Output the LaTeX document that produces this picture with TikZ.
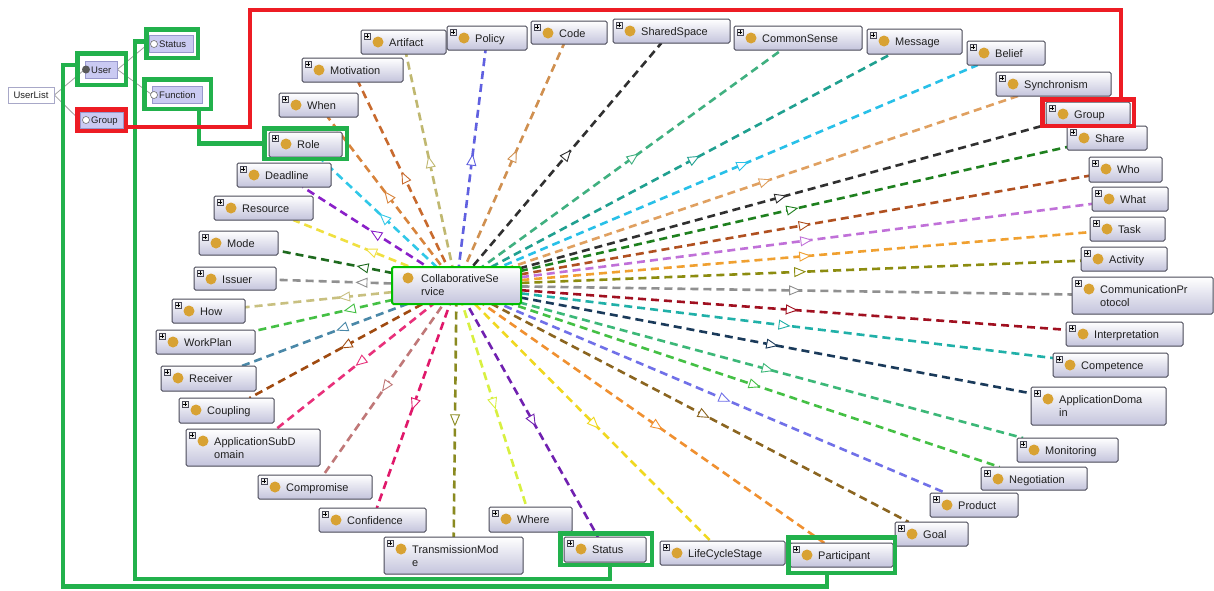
\documentclass[tikz,border=0pt]{standalone}
\usepackage{fontspec}
\setmainfont{Liberation Sans}
\usetikzlibrary{arrows.meta,decorations.markings}

\definecolor{gld}{HTML}{D8A233}
\definecolor{gr}{HTML}{22B14C}
\definecolor{rd}{HTML}{ED1C24}
\definecolor{bord}{HTML}{4A4A58}
\definecolor{shadebot}{HTML}{C4C4DC}
\definecolor{lav}{HTML}{CACAF2}
\definecolor{lavb}{HTML}{9898CC}
\definecolor{ulb}{HTML}{A8A8C8}
\definecolor{txt}{HTML}{202020}
\definecolor{treeln}{HTML}{A0A0A0}

\pgfdeclarelayer{bg}
\pgfdeclarelayer{paper}
\pgfsetlayers{paper,bg,main}

\tikzset{
  obox/.style={rectangle, draw=bord, line width=1pt, rounded corners=1.5pt,
    top color=white, bottom color=shadebot, inner sep=0pt, outer sep=0pt},
  csbox/.style={obox, draw=green!75!black, line width=2pt},
  pbox/.style={draw=bord, fill=black!8, line width=0.5pt},
  pmark/.style={draw=black, line width=0.6pt},
  olabel/.style={anchor=base west, inner sep=0pt, text=txt,
    font=\fontsize{11}{13}\selectfont},
  tlabel/.style={anchor=base west, inner sep=0pt, text=txt,
    font=\fontsize{9.5}{11}\selectfont},
  tlav/.style={rectangle, fill=lav, draw=lavb, line width=0.7pt, inner sep=0pt},
  treeline/.style={draw=treeln, line width=0.8pt},
  rayline/.style={line width=2.6pt, dash pattern=on 8pt off 5pt,
    postaction={decorate},
    decoration={markings, mark=at position 0.56 with
      {\arrow{Triangle[length=12pt, width=10pt, fill=white, line width=0.9pt]}}}},
  gframe/.style={rectangle, draw=gr, line width=4.5pt, inner sep=0pt, outer sep=0pt},
  rframe/.style={gframe, draw=rd},
  gline/.style={draw=gr, line width=4.5pt},
  rline/.style={draw=rd, line width=4.5pt},
}

% class box: name, x1, y1, x2, y2, label
\newcommand\onto[6]{%
  \node[obox, minimum width={#4-#2}, minimum height={#5-#3}] (#1) at ({(#2+#4)/2},{(#3+#5)/2}) {};
  \draw[pbox] (#2+3,#3+3) rectangle (#2+9,#3+9);
  \draw[pmark] (#2+4.2,#3+6) -- (#2+7.8,#3+6) (#2+6,#3+4.2) -- (#2+6,#3+7.8);
  \fill[gld] (#2+17,#3+12) circle (5.5);
  \node[olabel] (#1-t) at (#2+28,#3+16) {#6};
}
\newcommand\twol[2]{\begin{tabular}[t]{@{}l@{}}#1\\#2\end{tabular}}
% dashed relation from the central class
\newcommand\rel[2]{\definecolor{ec}{HTML}{#2}\draw[rayline, color=ec] (cs.center) -- (#1);}
% frame: name, style, outer x1, y1, x2, y2
\newcommand\frm[6]{\node[#2, minimum width={#5-#3-4.5}, minimum height={#6-#4-4.5}] (#1) at ({(#3+#5)/2},{(#4+#6)/2}) {};}

\begin{document}
\begin{tikzpicture}[x=1pt, y=-1pt]
\begin{pgfonlayer}{paper}
\fill[white] (0,0) rectangle (1214,590);
\end{pgfonlayer}
\useasboundingbox (0,0) rectangle (1214,590);

% central class
\node[csbox, minimum width=129, minimum height=37] (cs) at (456.5,285.5) {};
\fill[gld] (408,278) circle (5.5);
\node[olabel] (cs-t) at (421,282.5) {\twol{CollaborativeSe}{rvice}};

% surrounding classes
\onto{mot}{302}{58}{403}{82}{Motivation}
\onto{when}{279}{93}{358}{117}{When}
\onto{role}{269}{132}{342}{157}{Role}
\onto{dead}{237}{163}{331}{187}{Deadline}
\onto{res}{214}{196}{313}{220}{Resource}
\onto{mode}{199}{231}{278}{255}{Mode}
\onto{iss}{194}{267}{276}{290}{Issuer}
\onto{how}{172}{299}{245}{323}{How}
\onto{work}{156}{330}{255}{354}{WorkPlan}
\onto{recv}{161}{366}{256}{391}{Receiver}
\onto{coup}{179}{398}{274}{423}{Coupling}
\onto{asd}{186}{429}{320}{466}{\twol{ApplicationSubD}{omain}}
\onto{comp}{258}{475}{372}{499}{Compromise}
\onto{conf}{319}{508}{426}{532}{Confidence}
\onto{tm}{384}{537}{523}{574}{\twol{TransmissionMod}{e}}
\onto{where}{489}{507}{572}{532}{Where}
\onto{stat}{564}{537}{646}{562}{Status}
\onto{life}{660}{541}{785}{565}{LifeCycleStage}
\onto{part}{790}{543}{893}{567}{Participant}
\onto{goal}{895}{522}{968}{546}{Goal}
\onto{prod}{930}{493}{1018}{517}{Product}
\onto{nego}{981}{467}{1087}{490}{Negotiation}
\onto{moni}{1017}{438}{1118}{462}{Monitoring}
\onto{ad}{1031}{387}{1166}{425}{\twol{ApplicationDoma}{in}}
\onto{compe}{1053}{353}{1168}{377}{Competence}
\onto{interp}{1066}{322}{1183}{346}{Interpretation}
\onto{cp}{1072}{277}{1213}{314}{\twol{CommunicationPr}{otocol}}
\onto{act}{1081}{247}{1167}{271}{Activity}
\onto{task}{1090}{217}{1165}{241}{Task}
\onto{what}{1092}{187}{1168}{211}{What}
\onto{who}{1089}{157}{1162}{182}{Who}
\onto{share}{1067}{126}{1147}{150}{Share}
\onto{grp}{1046}{102}{1130}{125}{Group}
\onto{sync}{996}{72}{1111}{96}{Synchronism}
\onto{bel}{967}{41}{1045}{65}{Belief}
\onto{msg}{867}{29}{962}{54}{Message}
\onto{csense}{734}{26}{862}{50}{CommonSense}
\onto{ss}{613}{19}{730}{43}{SharedSpace}
\onto{code}{531}{21}{607}{44}{Code}
\onto{pol}{447}{26}{527}{50}{Policy}
\onto{art}{361}{30}{446}{54}{Artifact}

% relations, drawn beneath the boxes
\begin{pgfonlayer}{bg}
\rel{mot}{C86A2E}
\rel{when}{D8843C}
\rel{role}{30C8E8}
\rel{dead}{8A20C8}
\rel{res}{F0E040}
\rel{mode}{1E6A1E}
\rel{iss}{909090}
\rel{how}{C8C080}
\rel{work}{44C044}
\rel{recv}{4A88A8}
\rel{coup}{A04A10}
\rel{asd}{E8307A}
\rel{comp}{C07878}
\rel{conf}{E0186A}
\rel{tm}{8A8A20}
\rel{where}{D8F040}
\rel{stat}{7020B0}
\rel{life}{F0D820}
\rel{part}{F09030}
\rel{goal}{8B6520}
\rel{prod}{7070E8}
\rel{nego}{44C044}
\rel{moni}{3CB878}
\rel{ad}{1A3A5A}
\rel{compe}{20B0A8}
\rel{interp}{A01020}
\rel{cp}{909090}
\rel{act}{8C8C10}
\rel{task}{F0A030}
\rel{what}{C070D8}
\rel{who}{B05020}
\rel{share}{1E801E}
\rel{grp}{303030}
\rel{sync}{E0A060}
\rel{bel}{28C0E8}
\rel{msg}{20A090}
\rel{csense}{40B080}
\rel{ss}{303030}
\rel{code}{D09050}
\rel{pol}{6060E0}
\rel{art}{C0B870}
\end{pgfonlayer}

% user list tree
\node[rectangle, fill=white, draw=ulb, line width=0.7pt, inner sep=0pt,
  minimum width=46, minimum height=16, text=txt,
  font=\fontsize{9.5}{11}\selectfont] (ul) at (31,95) {UserList};
\node[tlav, minimum width=32, minimum height=17] (usr) at (101,69.5) {};
\node[tlav, minimum width=43, minimum height=16] (grpl) at (101.5,120) {};
\node[tlav, minimum width=44, minimum height=17] (statl) at (171,43.5) {};
\node[tlav, minimum width=50, minimum height=17] (func) at (177,94.5) {};
\begin{pgfonlayer}{bg}
\draw[treeline] (ul.east) -- (usr.west) (ul.east) -- (grpl.west);
\draw[treeline] (usr.east) -- (statl.west) (usr.east) -- (func.west);
\end{pgfonlayer}
\fill[black!65] (86,69.5) circle (4);
\draw[fill=white, draw=black!55, line width=0.6pt] (86,120) circle (3.5);
\draw[fill=white, draw=black!55, line width=0.6pt] (154,44) circle (3.5);
\draw[fill=white, draw=black!55, line width=0.6pt] (154,95) circle (3.5);
\node[tlabel] (usr-t) at (91,73) {User};
\node[tlabel] (grpl-t) at (91,123.5) {Group};
\node[tlabel] (statl-t) at (159,47.5) {Status};
\node[tlabel] (func-t) at (159,98.5) {Function};

% highlight frames
\frm{fUser}{gframe}{75}{51}{128}{87}
\frm{fStatL}{gframe}{144}{27}{200}{60}
\frm{fFunc}{gframe}{142}{77}{213}{111}
\frm{fRole}{gframe}{262}{126}{349}{161}
\frm{fStat}{gframe}{558}{531}{654}{567}
\frm{fPart}{gframe}{786}{535}{897}{575}
\frm{fGrpL}{rframe}{75}{107}{128}{133}
\frm{fGrpR}{rframe}{1040}{97}{1136}{128}

% links between highlighted items
\coordinate (g1) at (63,586.5);
\coordinate (g2) at (135,579);
\coordinate (r1) at (250,10);
\draw[gline] ([yshift=4pt]fUser.west) -| (g1) -| ([xshift=-14.5pt]fPart.south);
\draw[gline] ([yshift=2pt]fStatL.west) -| (g2) -| ([xshift=4pt]fStat.south);
\draw[gline] ([xshift=21.5pt]fFunc.south) |- (fRole.west);
\draw[rline] ([yshift=-7pt]fGrpL.east) -| (r1) -| ([xshift=33pt]fGrpR.north);
\end{tikzpicture}
\end{document}
